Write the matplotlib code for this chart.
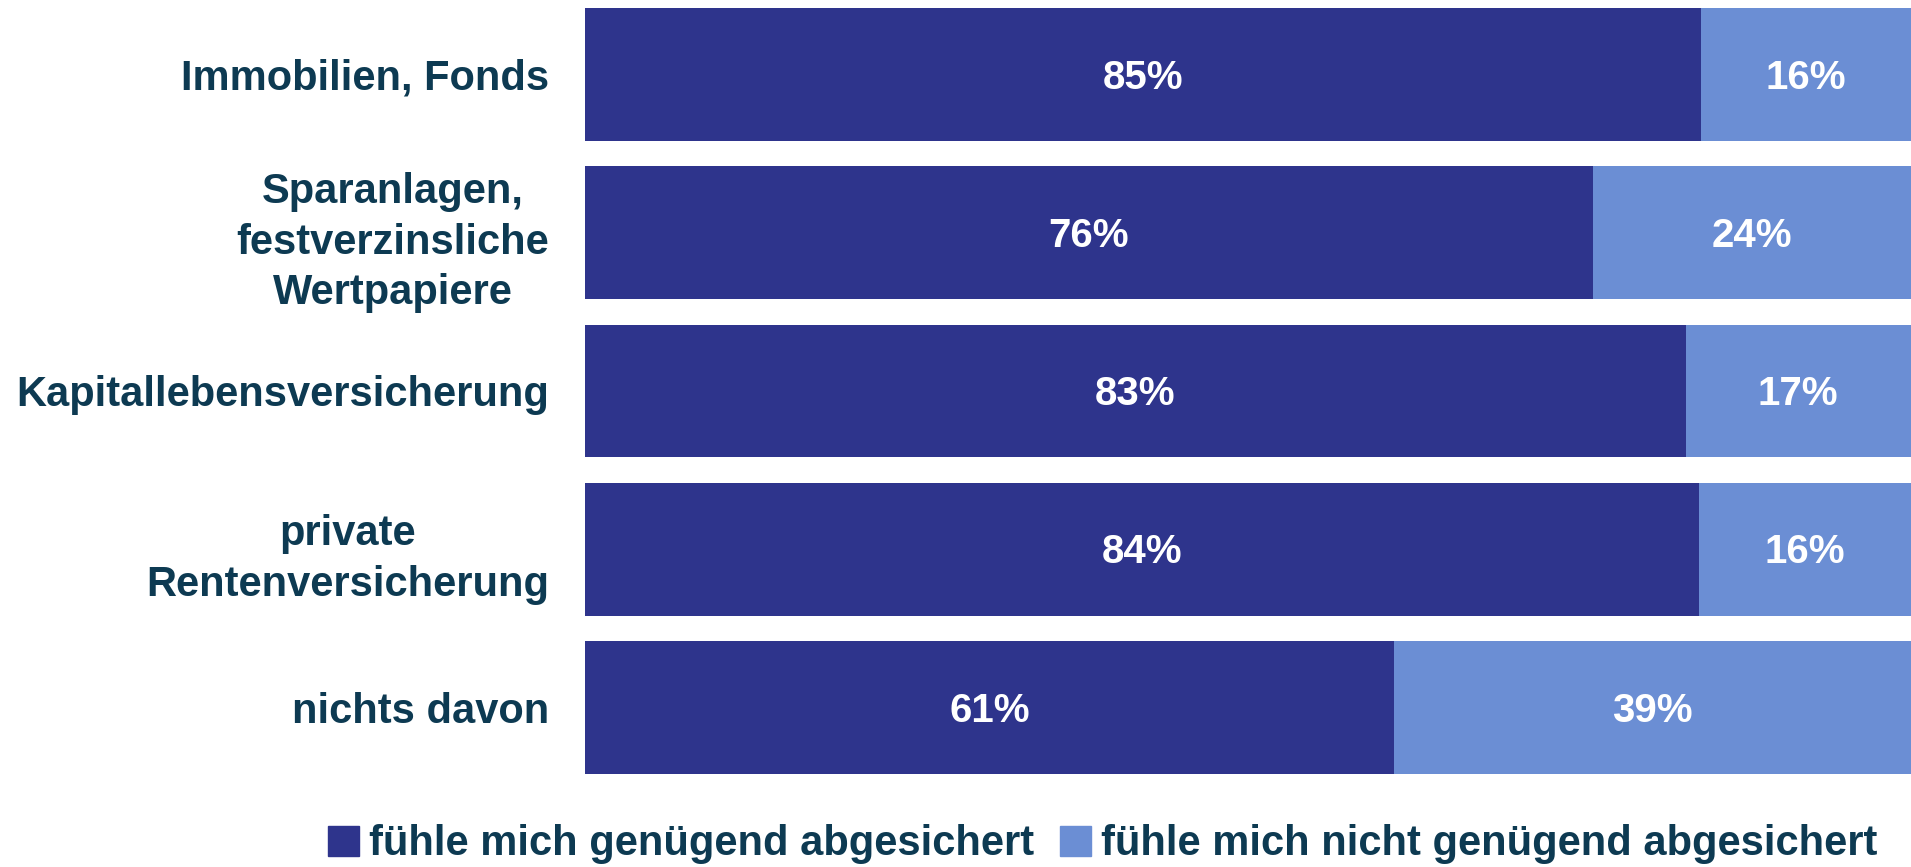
import numpy as np
import matplotlib
matplotlib.use("Agg")
import matplotlib.pyplot as plt
from matplotlib.patches import Patch

# data (percent, as printed)
categories = ["Immobilien, Fonds",
              "Sparanlagen,\nfestverzinsliche\nWertpapiere",
              "Kapitallebensversicherung",
              "private\nRentenversicherung",
              "nichts davon"]
secure = np.array([85, 76, 83, 84, 61])
not_secure = np.array([16, 24, 17, 16, 39])
series_names = ["fühle mich genügend abgesichert",
                "fühle mich nicht genügend abgesichert"]

dark = "#2E348C"
light = "#6B8ED4"
txt = "#0D3A52"

plt.rcParams['font.family'] = ['Liberation Sans', 'DejaVu Sans']

# bars are drawn as shares of each row's total
total = secure + not_secure
sec_share = secure / total * 100
not_share = not_secure / total * 100

fig = plt.figure(figsize=(19.11, 8.67), dpi=100)
ax = fig.add_axes([0.3061, 0.1073, 0.6939, 0.8835])

y = np.arange(len(categories))
h = 0.84
ax.barh(y, sec_share, height=h, color=dark)
ax.barh(y, not_share, left=sec_share, height=h, color=light)

for i in range(len(categories)):
    ax.text(sec_share[i] / 2, y[i] + 0.02, f"{secure[i]}%", ha='center', va='center',
            color='white', fontsize=29, fontweight='bold')
    ax.text(sec_share[i] + not_share[i] / 2, y[i] + 0.02, f"{not_secure[i]}%",
            ha='center', va='center', color='white', fontsize=29, fontweight='bold')

ax.set_xlim(0, 100)
ax.set_ylim(len(categories) - 1 + h / 2, -h / 2)
ax.set_yticks(y, categories, fontsize=30, fontweight='bold', color=txt,
              ma='center', linespacing=1.35)
ax.tick_params(axis='y', length=0, pad=26)
ax.set_xticks([])
for s in ax.spines.values():
    s.set_visible(False)

handles = [Patch(color=dark), Patch(color=light)]
fig.legend(handles, series_names, loc='center', bbox_to_anchor=(0.577, 0.026),
           ncol=2, frameon=False, handlelength=0.75, handleheight=0.75,
           handletextpad=0.25, columnspacing=0.6,
           prop={'weight': 'bold', 'size': 30},
           labelcolor=txt)

fig.savefig("out.png", dpi=100)
